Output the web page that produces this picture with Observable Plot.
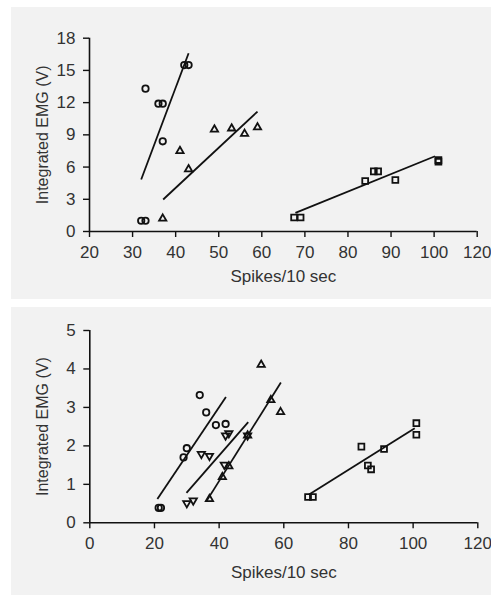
<!DOCTYPE html>
<html>
<head>
<meta charset="utf-8">
<script src="https://cdn.jsdelivr.net/npm/d3@7"></script>
<script src="https://cdn.jsdelivr.net/npm/@observablehq/plot@0.6"></script>
<style>
  html, body { margin: 0; padding: 0; background: #ffffff; }
  #top, #bottom { position: absolute; left: 11px; }
  #top { top: 7px; }
  #bottom { top: 307px; }
</style>
</head>
<body>
<div id="top"></div>
<div id="bottom"></div>
<script>
// ---------- Top panel data ----------
const topXTicks = [20, 30, 40, 50, 60, 70, 80, 90, 100, 110];
const topXTickLabels = ["20", "30", "40", "50", "60", "70", "80", "90", "100", "120"];
const topYTicks = [0, 3, 6, 9, 12, 15, 18];

const topCircleX = [32, 33, 33, 36, 37, 37, 42, 43];
const topCircleY = [1.0, 1.0, 13.3, 11.9, 11.9, 8.4, 15.5, 15.5];
const topTriX = [37, 41, 43, 49, 53, 56, 59];
const topTriY = [1.2, 7.5, 5.8, 9.5, 9.6, 9.1, 9.7];
const topSquareX = [67.5, 69, 84, 86, 87, 91, 101, 101];
const topSquareY = [1.3, 1.3, 4.7, 5.6, 5.6, 4.8, 6.5, 6.65];

const topLineX1 = [32.0, 37.1, 67.8];
const topLineY1 = [4.84, 2.98, 1.74];
const topLineX2 = [43.0, 59.0, 100.2];
const topLineY2 = [16.6, 11.17, 7.01];

// ---------- Bottom panel data ----------
const bottomXTicks = [0, 20, 40, 60, 80, 100, 120];
const bottomYTicks = [0, 1, 2, 3, 4, 5];

const botCircleX = [21.3, 22, 29, 30, 34, 36, 39, 42];
const botCircleY = [0.39, 0.39, 1.70, 1.94, 3.32, 2.87, 2.54, 2.57];
const botDownTriX = [30, 32, 34.5, 37, 41.6, 42, 43, 48.8];
const botDownTriY = [0.51, 0.58, 1.79, 1.74, 1.51, 2.27, 2.33, 2.27];
const botTriX = [37, 41, 43, 48.8, 53, 56, 59];
const botTriY = [0.62, 1.19, 1.47, 2.27, 4.11, 3.19, 2.88];
const botSquareX = [67.5, 69, 84, 86, 87, 91, 101, 101];
const botSquareY = [0.67, 0.67, 1.98, 1.49, 1.39, 1.92, 2.59, 2.29];

const botLineX1 = [20.9, 29.9, 36.0, 67.7];
const botLineY1 = [0.62, 0.78, 0.55, 0.73];
const botLineX2 = [42.1, 49.0, 59.1, 100.5];
const botLineY2 = [3.27, 2.62, 3.65, 2.46];

// ---------- helpers ----------
const pts = (xs, ys) => xs.map((x, i) => ({x, y: ys[i]}));
const segs = (x1, y1, x2, y2) => x1.map((v, i) => ({x1: v, y1: y1[i], x2: x2[i], y2: y2[i]}));

const ink = "#111";
const textColor = "#333";
const font = "'Liberation Sans', Arial, Helvetica, sans-serif";
const symStroke = 1.8;

function dots(data, symbol, r, extra = {}) {
  return Plot.dot(data, {x: "x", y: "y", symbol, r, fill: "none", stroke: ink, strokeWidth: symStroke, ...extra});
}

function makeChart({height, marginLeft, marginRight, marginTop, marginBottom, xDomain, yDomain, xTicks, xFormat, yTicks, xLabelOffset, yLabelOffset, lines, marks}) {
  return Plot.plot({
    width: 480,
    height,
    marginLeft, marginRight, marginTop, marginBottom,
    style: {background: "#f2f2f2", fontFamily: font, fontSize: "17px", color: textColor, overflow: "visible"},
    x: {domain: xDomain},
    y: {domain: yDomain},
    marks: [
      Plot.axisX({ticks: xTicks, tickFormat: xFormat, tickSize: 6, tickPadding: 8, stroke: ink, strokeWidth: 1.4, fill: textColor,
        fontSize: 17, label: null}),
      Plot.axisX({ticks: [], fill: textColor, fontSize: 17, dx: -4,
        label: "Spikes/10 sec", labelAnchor: "center", labelArrow: "none", labelOffset: xLabelOffset}),
      Plot.axisY({ticks: yTicks, tickFormat: d => String(d), tickSize: 6, tickPadding: 8, stroke: ink, strokeWidth: 1.4, fill: textColor,
        fontSize: 17, label: null}),
      Plot.axisY({ticks: [], fill: textColor, fontSize: 16,
        label: "Integrated EMG (V)", labelAnchor: "center", labelArrow: "none", labelOffset: yLabelOffset}),
      Plot.ruleY([yDomain[0]], {stroke: ink, strokeWidth: 1.6}),
      Plot.ruleX([xDomain[0]], {stroke: ink, strokeWidth: 1.6}),
      Plot.link(lines, {x1: "x1", y1: "y1", x2: "x2", y2: "y2", stroke: ink, strokeWidth: 1.8}),
      ...marks
    ]
  });
}

const topChart = makeChart({
  height: 292,
  marginLeft: 78, marginRight: 14.3, marginTop: 30.7, marginBottom: 68,
  xDomain: [20, 110], yDomain: [0, 18],
  xTicks: topXTicks,
  xFormat: d => topXTickLabels[topXTicks.indexOf(d)],
  yTicks: topYTicks,
  xLabelOffset: 50, yLabelOffset: 52.7,
  lines: segs(topLineX1, topLineY1, topLineX2, topLineY2),
  marks: [
    dots(pts(topCircleX, topCircleY), "circle", 3.2),
    dots(pts(topTriX, topTriY), "triangle", 2.7),
    dots(pts(topSquareX, topSquareY), "square", 3.3)
  ]
});

const bottomChart = makeChart({
  height: 288,
  marginLeft: 78.3, marginRight: 13.7, marginTop: 23, marginBottom: 72.7,
  xDomain: [0, 120], yDomain: [0, 5],
  xTicks: bottomXTicks,
  xFormat: d => String(d),
  yTicks: bottomYTicks,
  xLabelOffset: 55.4, yLabelOffset: 53,
  lines: segs(botLineX1, botLineY1, botLineX2, botLineY2),
  marks: [
    dots(pts(botCircleX, botCircleY), "circle", 3.2),
    dots(pts(botDownTriX, botDownTriY), "triangle", 2.7, {rotate: 180}),
    dots(pts(botTriX, botTriY), "triangle", 2.7),
    dots(pts(botSquareX, botSquareY), "square", 3.3)
  ]
});

document.getElementById("top").appendChild(topChart);
document.getElementById("bottom").appendChild(bottomChart);
</script>
</body>
</html>
